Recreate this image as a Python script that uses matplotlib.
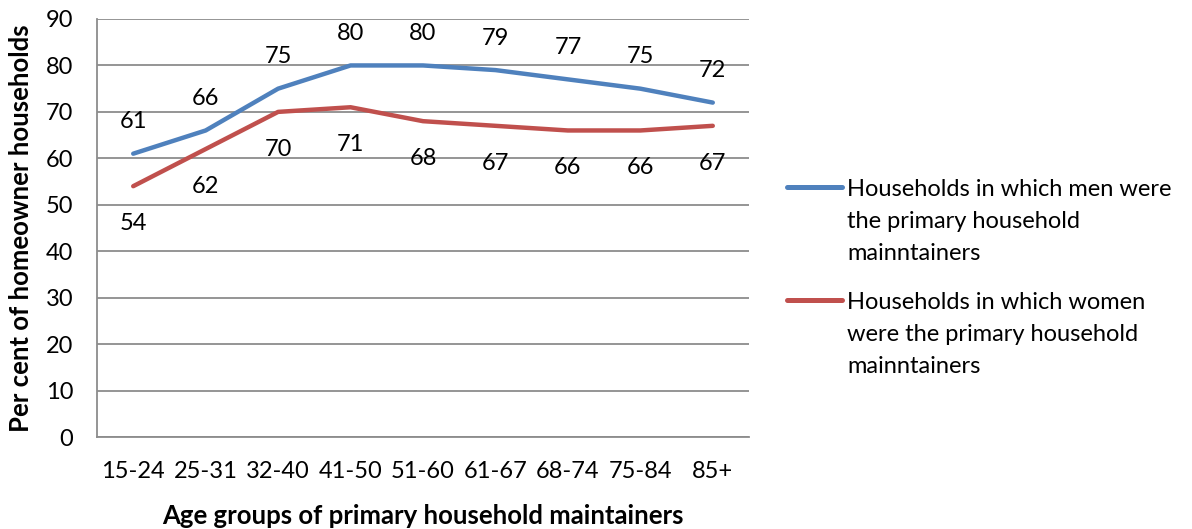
import matplotlib
matplotlib.use("Agg")
import matplotlib.pyplot as plt

categories = ["15-24", "25-31", "32-40", "41-50", "51-60", "61-67", "68-74", "75-84", "85+"]
men = [61, 66, 75, 80, 80, 79, 77, 75, 72]
women = [54, 62, 70, 71, 68, 67, 66, 66, 67]
yticks = [0, 10, 20, 30, 40, 50, 60, 70, 80, 90]
men_label = "Households in which men were\nthe primary household\nmainntainers"
women_label = "Households in which women\nwere the primary household\nmainntainers"

BLUE = "#4F81BD"
RED = "#C0504D"
GRID = "#8C8C8C"
FONT = ["Lato", "DejaVu Sans"]
plt.rcParams["font.family"] = FONT
FS = 17

W, H = 1192, 529
fig = plt.figure(figsize=(W / 100, H / 100), dpi=100)
left, right, top, bottom = 97, 749, 19, 437
ax = fig.add_axes([left / W, 1 - bottom / H, (right - left) / W, (bottom - top) / H])

x = list(range(len(categories)))
ax.plot(x, men, color=BLUE, lw=3.2, solid_capstyle="round", zorder=3)
ax.plot(x, women, color=RED, lw=3.2, solid_capstyle="round", zorder=3)

for xi, v in zip(x, men):
    ax.annotate(str(v), (xi, v), xytext=(0, 23), textcoords="offset points",
                ha="center", va="center", fontsize=FS, color="black")
for xi, v in zip(x, women):
    ax.annotate(str(v), (xi, v), xytext=(0, -27), textcoords="offset points",
                ha="center", va="center", fontsize=FS, color="black")

ax.set_xlim(-0.5, len(categories) - 0.5)
ax.set_ylim(0, 90)
ax.set_yticks(yticks)
ax.set_xticks(x)
ax.set_xticklabels(categories)
ax.tick_params(axis="both", length=0, labelsize=FS)
ax.tick_params(axis="x", pad=17)
ax.tick_params(axis="y", pad=17)
ax.yaxis.grid(True, color=GRID, lw=1.3)
ax.set_axisbelow(True)
for s in ["top", "right"]:
    ax.spines[s].set_visible(False)
for s in ["left", "bottom"]:
    ax.spines[s].set_color(GRID)
    ax.spines[s].set_linewidth(1.3)

ax.set_ylabel("Per cent of homeowner households", fontsize=18.5, fontweight="bold", labelpad=9)
ax.set_xlabel("Age groups of primary household maintainers", fontsize=18.5, fontweight="bold", labelpad=16)

# legend drawn manually
lax = fig.add_axes([0, 0, 1, 1], facecolor="none")
lax.set_xlim(0, W)
lax.set_ylim(H, 0)
lax.axis("off")
entries = [(men_label, BLUE, 187), (women_label, RED, 300)]
for label, col, yy in entries:
    lax.plot([787, 842], [yy, yy], color=col, lw=3.6, solid_capstyle="round")
    for i, line in enumerate(label.split("\n")):
        lax.text(847, yy + 9 + i * 32, line, fontsize=FS, va="baseline", ha="left")

fig.savefig("out.png", dpi=100)
